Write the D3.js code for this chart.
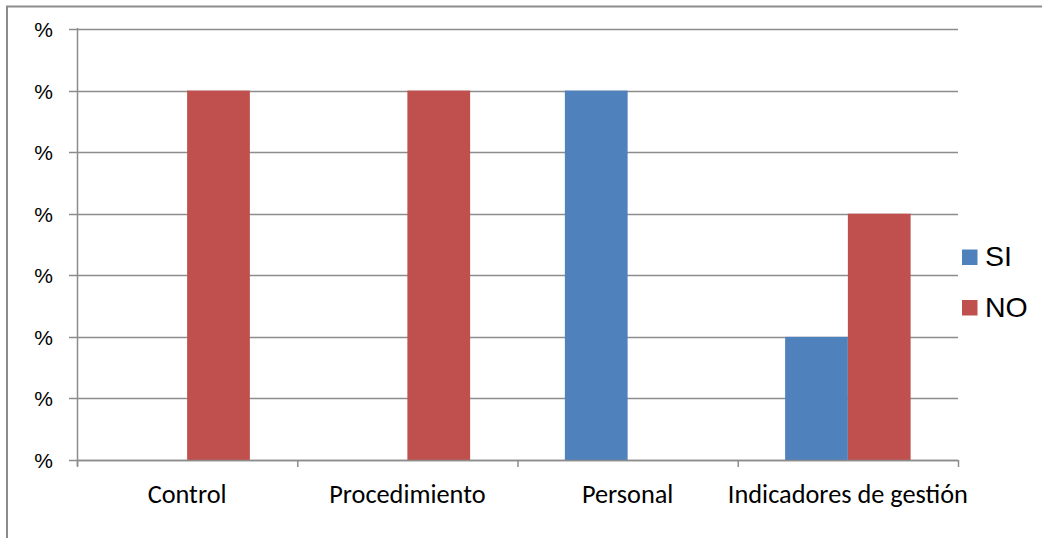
<!DOCTYPE html>
<html><head><meta charset="utf-8">
<script src="https://cdn.jsdelivr.net/npm/d3@7"></script>
<style>body{margin:0;background:#fff}svg{display:block}</style>
</head><body>
<script>
const categories = ["Control", "Procedimiento", "Personal", "Indicadores de gestión"];
const seriesNames = ["SI", "NO"];
const siValues = [0, 0, 100, 33.33];
const noValues = [100, 100, 0, 66.67];
const seriesColors = ["#4F81BD", "#C0504D"];
const yTicks = [0, 16.67, 33.33, 50, 66.67, 83.33, 100, 116.67];
const yTickLabel = "%";

(function () {
const W = 1042, H = 538;
const svg = d3.select("body").append("svg").attr("width", W).attr("height", H);

// outer frame (top and left edges)
svg.append("path").attr("d", `M7,${H} L7,6.5 L${W},6.5`).attr("fill", "none").attr("stroke", "#8c8c8c").attr("stroke-width", 2);

const pL = 77, pR = 958, pT = 29, pB = 460;
const x0 = d3.scaleBand().domain(categories).range([pL, pR]).paddingInner(0).paddingOuter(0);
const x1 = d3.scaleBand().domain(seriesNames).range([0, 125.5]);
const y = d3.scaleLinear().domain([0, 116.67]).range([pB, pT]);

// gridlines
svg.append("g").selectAll("line").data(yTicks).join("line")
  .attr("x1", pL - 8).attr("x2", pR)
  .attr("y1", d => Math.round(y(d)) + 0.5).attr("y2", d => Math.round(y(d)) + 0.5)
  .attr("stroke", "#8c8c8c").attr("stroke-width", 1.5);

// y labels
svg.append("g").selectAll("text").data(yTicks).join("text")
  .attr("x", 53).attr("y", d => y(d) + 8).attr("text-anchor", "end")
  .attr("font-family", "Liberation Sans, Arial, sans-serif").attr("font-size", 21).attr("fill", "#000")
  .text(yTickLabel);

// bars
const data = categories.map((c, i) => ({ c, vals: [siValues[i], noValues[i]] }));
const g = svg.append("g");
data.forEach(d => {
  d.vals.forEach((v, j) => {
    if (v <= 0) return;
    const cx = x0(d.c) + x0.bandwidth() / 2 - 62.75;
    g.append("rect")
      .attr("x", cx + x1(seriesNames[j])).attr("width", x1.bandwidth())
      .attr("y", y(v)).attr("height", pB - y(v))
      .attr("fill", seriesColors[j]);
  });
});

// y axis line
svg.append("line").attr("x1", pL + 0.5).attr("x2", pL + 0.5).attr("y1", pT - 1).attr("y2", pB + 6)
  .attr("stroke", "#8c8c8c").attr("stroke-width", 1.5);
// x axis
svg.append("line").attr("x1", pL).attr("x2", pR).attr("y1", pB + 0.5).attr("y2", pB + 0.5)
  .attr("stroke", "#8c8c8c").attr("stroke-width", 1.5);
const edges = categories.map(c => x0(c)).concat([pR]);
svg.append("g").selectAll("line").data(edges).join("line")
  .attr("x1", d => d + 0.5).attr("x2", d => d + 0.5).attr("y1", pB).attr("y2", pB + 7)
  .attr("stroke", "#8c8c8c").attr("stroke-width", 1.5);
svg.append("g").selectAll("text").data(categories).join("text")
  .attr("x", d => x0(d) + x0.bandwidth() / 2).attr("y", 502.5).attr("text-anchor", "middle")
  .attr("font-family", "Carlito, Calibri, 'Open Sans', sans-serif").attr("font-size", 26.3).attr("fill", "#000")
  .text(d => d);

// legend
const leg = svg.append("g");
seriesNames.forEach((s, i) => {
  const ly = 249.5 + i * 50.5;
  leg.append("rect").attr("x", 962).attr("y", ly).attr("width", 15.5).attr("height", 15.5).attr("fill", seriesColors[i]);
  leg.append("text").attr("x", 985).attr("y", ly + 16.8).attr("font-family", "Liberation Sans, Arial, sans-serif")
    .attr("font-size", 28.5).attr("fill", "#000").text(s);
});
})();
</script>
</body></html>
